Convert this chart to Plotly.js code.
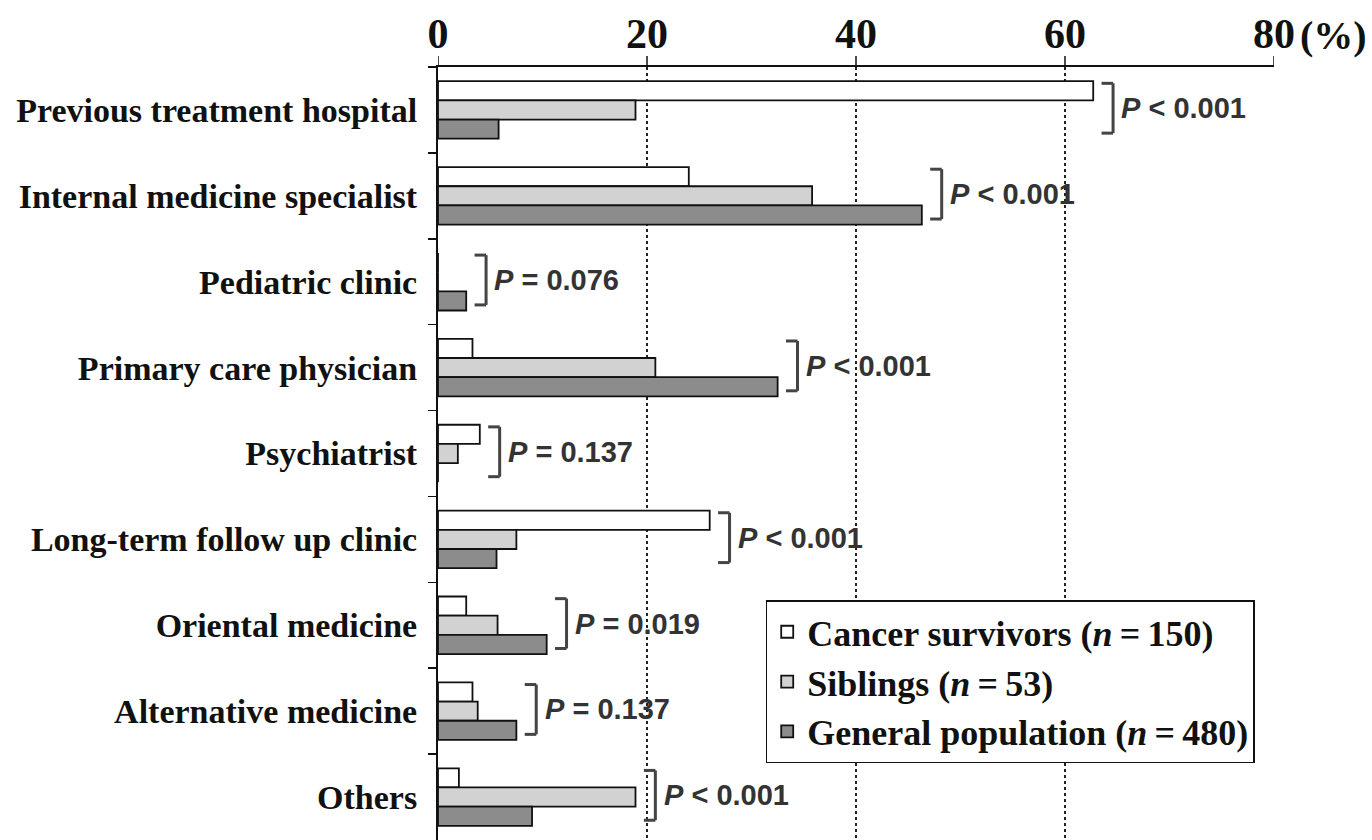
<!DOCTYPE html>
<html>
<head>
<meta charset="utf-8">
<script src="https://cdn.plot.ly/plotly-3.0.1.min.js"></script>
<style>html,body{margin:0;padding:0;background:#fff;}#chart{width:1372px;height:840px;}</style>
</head>
<body>
<div id="chart"></div>
<script>
// ---- data ----
var categories = ["Previous treatment hospital", "Internal medicine specialist", "Pediatric clinic",
  "Primary care physician", "Psychiatrist", "Long-term follow up clinic", "Oriental medicine",
  "Alternative medicine", "Others"];
var seriesNames = ["Cancer survivors (<i>n</i>\u2009=\u2009150)", "Siblings (<i>n</i>\u2009=\u200953)", "General population (<i>n</i>\u2009=\u2009480)"];
var survivors = [62.7, 24.0, 0, 3.3, 4.0, 26.0, 2.7, 3.3, 2.0];
var siblings  = [18.9, 35.8, 0, 20.8, 1.9, 7.5, 5.7, 3.8, 18.9];
var general   = [5.8, 46.3, 2.7, 32.5, 0, 5.6, 10.4, 7.5, 9.0];
var pValues = ["< 0.001", "< 0.001", "= 0.076", "< 0.001", "= 0.137", "< 0.001", "= 0.019", "= 0.137", "< 0.001"];
var xTickVals = [0, 20, 40, 60, 80];
var xTickText = ["0", "20", "40", "60", "80"];

var colors = ["#ffffff", "#d2d2d2", "#8c8c8c"];
var serif = "Liberation Serif, Times New Roman, serif";
var sans = "Liberation Sans, Arial, sans-serif";

var allSeries = [survivors, siblings, general];
var traces = allSeries.map(function (vals, k) {
  return {
    type: "bar", orientation: "h",
    y: categories, x: vals, name: seriesNames[k],
    marker: {color: colors[k], line: {color: "#111", width: 1.8}},
    legendgroup: "g" + k,
    hoverinfo: "x+name"
  };
});

var shapes = [], annotations = [];
var bColor = "#444";
categories.forEach(function (c, i) {
  var m = Math.max(survivors[i], siblings[i], general[i]);
  var xl = m + 0.8, xv = m + 1.9;
  var y0 = i - 0.31, y1 = i + 0.27;
  shapes.push({type: "line", xref: "x", yref: "y", x0: xv, x1: xv, y0: y0, y1: y1, line: {color: bColor, width: 3}});
  shapes.push({type: "line", xref: "x", yref: "y", x0: xl, x1: xv, y0: y0, y1: y0, line: {color: bColor, width: 3}});
  shapes.push({type: "line", xref: "x", yref: "y", x0: xl, x1: xv, y0: y1, y1: y1, line: {color: bColor, width: 3}});
  annotations.push({
    xref: "x", yref: "y", x: xv + 0.6, y: i - 0.02, xanchor: "left", yanchor: "middle",
    text: "<i>P</i> " + pValues[i], showarrow: false,
    font: {family: sans, size: 29, color: "#333", weight: "bold"}
  });
});
// top-axis tick marks
xTickVals.forEach(function (v) {
  shapes.push({type: "line", xref: "x", yref: "paper", x0: v, x1: v, y0: 1, y1: 1 + 11 / 773,
    line: {color: "#111", width: 1.5}});
});
annotations.push({
  xref: "paper", yref: "paper", x: 1.029, y: 1.041, xanchor: "left", yanchor: "middle",
  text: "(%)", showarrow: false, font: {family: serif, size: 40, color: "#111", weight: "bold"}
});

var layout = {
  width: 1372, height: 840,
  margin: {l: 438, r: 98, t: 67, b: 0, pad: 0},
  paper_bgcolor: "#fff", plot_bgcolor: "#fff",
  barmode: "group", bargap: 0.33, bargroupgap: 0,
  showlegend: true,
  legend: {
    x: 0.392, y: 0.31, xanchor: "left", yanchor: "top",
    bordercolor: "#111", borderwidth: 1.5, bgcolor: "#fff",
    font: {family: serif, size: 36, color: "#111", weight: "bold"},
    traceorder: "normal", tracegroupgap: 0
  },
  xaxis: {
    side: "top", range: [0, 80], tickvals: xTickVals, ticktext: xTickText,
    showline: true, linecolor: "#111", linewidth: 2.5,
    ticks: "",
    showgrid: true, gridcolor: "#222", gridwidth: 1.5, griddash: "dot",
    zeroline: false, fixedrange: true,
    tickfont: {family: serif, size: 42, color: "#111", weight: "bold"}
  },
  yaxis: {
    type: "category", autorange: "reversed",
    showline: true, linecolor: "#111", linewidth: 2,
    ticks: "outside", tickson: "boundaries", ticklen: 8, tickwidth: 1.5, tickcolor: "#111",
    ticklabelstandoff: 12,
    showgrid: false, zeroline: false, fixedrange: true,
    tickfont: {family: serif, size: 34, color: "#111", weight: "bold"}
  },
  shapes: shapes,
  annotations: annotations
};

Plotly.newPlot("chart", traces, layout, {displayModeBar: false, staticPlot: true});
</script>
</body>
</html>
